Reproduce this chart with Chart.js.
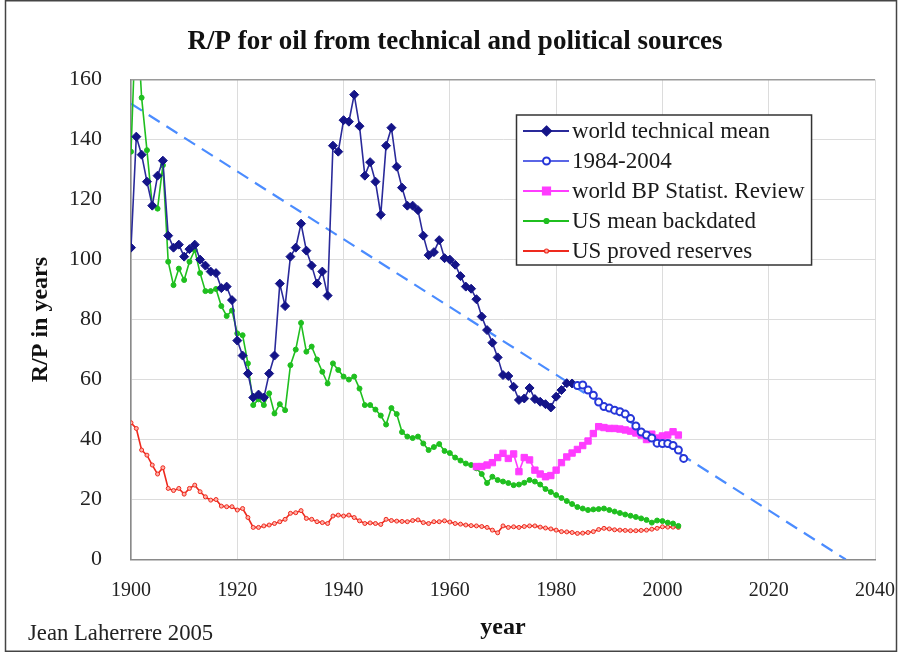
<!DOCTYPE html>
<html><head><meta charset="utf-8">
<script src="https://cdn.jsdelivr.net/npm/chart.js@4.4.1/dist/chart.umd.min.js"></script>
<style>html,body{margin:0;padding:0;background:#fff;}canvas{display:block;}</style>
</head><body>
<canvas id="c" width="900" height="657"></canvas>
<script>
// ---- data ----
const TITLE = 'R/P for oil from technical and political sources';
const X_TITLE = 'year';
const Y_TITLE = 'R/P in years';
const NOTE = 'Jean Laherrere 2005';
const X_MIN = 1900, X_MAX = 2040, X_STEP = 20;
const Y_MIN = 0, Y_MAX = 160, Y_STEP = 20;

const WTM_START = 1900; // world technical mean, yearly 1900-1983
const WTM_VALUES = [104,141,135,126,118,128,133,108,104,105,
  101,103.5,105,100,98,96,95.5,90.5,91,86.5,
  73,68,62,54,55,54,62,68,92,84.5,
  101,104,112,103,98,92,96,88,138,136,
  146.5,146,155,144.5,128,132.5,126,115,138,144,
  131,124,118,118,116.5,108,101.5,102.5,106.5,100.5,
  100,98.3,94.5,91,90.3,86.8,81,76.5,72.3,67.4,
  61.5,61.2,57.6,53.2,53.7,57.2,53.5,52.6,51.8,50.7,
  54.3,56.5,58.8,58.7];

const RECENT_START = 1984; // 1984-2004
const RECENT_VALUES = [58,58.2,56.5,54.8,52.5,51,50.5,49.8,49.3,48.5,
  47,44.5,42.5,41.5,40.5,38.8,38.7,38.7,38,36.5,33.7];

const BP_START = 1965; // world BP Statist. Review
const BP_VALUES = [31,31,31.5,32.3,34,35.4,33.7,35.2,29.3,34,
  33.2,29.8,28.5,27.6,28,29.8,32.3,34.2,35.5,36.7,
  38,39.5,42,44.3,44,43.7,43.7,43.5,43.2,42.8,
  42.2,41.5,40,41.8,40.5,41.2,41.5,42.6,41.5];

const USMEAN_START = 1900; // US mean backdated
const USMEAN_VALUES = [136,185,154,136.5,118,117,131.5,99.3,91.5,97,
  93.2,99.3,103.2,95.5,89.5,89.5,90.2,84.5,81.2,83,
  75.4,74.8,65.4,51.5,53.4,51.5,55.4,48.7,51.8,49.8,
  64.8,70,78.9,69.3,71,66.7,62.6,58.7,65.4,63.2,
  61,60,61,57,51.5,51.5,50,48,45,50.5,
  48.5,42.5,41,40.5,41,38.7,36.5,37.5,38.5,36.2,
  35.5,34,33,32,31.5,30.4,28.5,25.5,27.6,26.5,
  26,25.5,24.8,25,25.6,26.5,26,25,23.5,22.5,
  21.5,20.5,19.5,18.5,17.5,17,16.5,16.7,16.8,17,
  16.5,16,15.5,15,14.6,14.2,13.7,13.2,12.3,13,
  12.8,12.3,12,11.2];

const USPROVED_START = 1900; // US proved reserves
const USPROVED_VALUES = [45.6,43.7,36.5,34.8,31.5,28.5,30.6,23.7,23,23.7,
  21.8,23.7,24.8,22.6,20.9,19.8,20,17.8,17.6,17.6,
  16.5,17,14,10.7,10.7,11.2,11.5,12,12.6,13.4,
  15.4,15.6,16.3,13.7,13.4,12.6,12.3,12,14.5,14.8,
  14.5,14.8,14,12.9,12,12.2,12,11.7,13.4,13,
  12.8,12.7,12.6,13,13.2,12.3,12,12.6,12.6,12.9,
  12.5,12,11.8,11.5,11.3,11.2,11,10.7,9.8,8.9,
  11.2,10.7,10.9,10.7,11,11.2,11.2,10.8,10.5,10.2,
  9.8,9.3,9.2,9,8.7,8.8,9,9.3,10,10.4,
  10.2,9.9,9.8,9.7,9.6,9.6,9.7,9.8,10.1,10.4,
  10.9,10.8,10.8,10.7];

const TREND_YEARS = [1900, 2034.5];
const TREND_VALUES = [152, 0];

const LABELS = ['world technical mean','1984-2004','world BP Statist. Review','US mean backdated','US proved reserves'];

// ---- build points ----
const pts = (start, vals) => vals.map((v, i) => ({x: start + i, y: v}));
const trendPts = TREND_YEARS.map((x, i) => ({x, y: TREND_VALUES[i]}));

const SERIF = "'Liberation Serif', 'DejaVu Serif', serif";
const C_NAVY = '#141488', C_BLUE = '#2636d8', C_MAG = '#ff3cff', C_GREEN = '#1fbf1f', C_RED = '#ee2a1e', C_TREND = '#4b8cff';

const STYLE = [
  {color: C_NAVY, line: '#2a2a9a', shape: 'diamond', r: 4, fill: C_NAVY},
  {color: C_BLUE, line: '#5a66e6', shape: 'circle', r: 3.5, fill: '#ffffff'},
  {color: C_MAG, line: C_MAG, shape: 'square', r: 4, fill: C_MAG},
  {color: C_GREEN, line: C_GREEN, shape: 'circle', r: 2.5, fill: C_GREEN},
  {color: C_RED, line: C_RED, shape: 'circle', r: 2, fill: '#ffb0a8'}
];

function marker(ctx, s, x, y) {
  ctx.save();
  ctx.fillStyle = s.fill; ctx.strokeStyle = s.color; ctx.lineWidth = s.shape === 'circle' && s.fill === '#ffffff' ? 2 : 1.2;
  ctx.beginPath();
  if (s.shape === 'diamond') {
    ctx.moveTo(x, y - s.r - 1); ctx.lineTo(x + s.r + 1, y); ctx.lineTo(x, y + s.r + 1); ctx.lineTo(x - s.r - 1, y); ctx.closePath();
  } else if (s.shape === 'square') {
    ctx.rect(x - s.r, y - s.r, 2 * s.r, 2 * s.r);
  } else {
    ctx.arc(x, y, s.r, 0, Math.PI * 2);
  }
  ctx.fill(); ctx.stroke();
  ctx.restore();
}

const decor = {
  id: 'decor',
  afterDraw(chart) {
    const ctx = chart.ctx, a = chart.chartArea;
    ctx.save();
    // plot top border
    ctx.strokeStyle = '#9a9a9a'; ctx.lineWidth = 1.5;
    ctx.beginPath(); ctx.moveTo(a.left, a.top); ctx.lineTo(a.right, a.top); ctx.stroke();
    // outer frame
    ctx.strokeStyle = '#444'; ctx.lineWidth = 1.5;
    ctx.strokeRect(5.5, 0.75, 891, 650.5);
    // note
    ctx.fillStyle = '#222'; ctx.font = '22.7px ' + SERIF; ctx.textBaseline = 'middle'; ctx.textAlign = 'left';
    ctx.fillText(NOTE, 28, 634);
    // legend
    ctx.font = '23px ' + SERIF;
    const maxW = Math.max(...LABELS.map(l => ctx.measureText(l).width));
    const L = 516.5, T = 115, W = (572 - L) + maxW + 7, H = 150;
    ctx.fillStyle = '#fff'; ctx.fillRect(L, T, W, H);
    ctx.strokeStyle = '#333'; ctx.lineWidth = 1.5; ctx.strokeRect(L, T, W, H);
    LABELS.forEach((lab, i) => {
      const y = 131 + i * 30, s = STYLE[i];
      ctx.strokeStyle = s.line; ctx.lineWidth = 2;
      ctx.beginPath(); ctx.moveTo(523, y); ctx.lineTo(569, y); ctx.stroke();
      marker(ctx, s, 546.5, y);
      ctx.fillStyle = '#1a1a1a';
      ctx.fillText(lab, 572, y + 1);
    });
    ctx.restore();
  }
};

function ds(label, data, s, order) {
  return {
    label, data, order,
    borderColor: s.line, borderWidth: 1.6,
    pointStyle: s.shape === 'diamond' ? 'rectRot' : (s.shape === 'square' ? 'rect' : 'circle'),
    pointRadius: s.shape === 'diamond' ? 4.5 : (s.shape === 'square' ? 4.5 : s.r),
    pointBackgroundColor: s.fill, pointBorderColor: s.color,
    pointBorderWidth: s.fill === '#ffffff' ? 2 : 1,
    tension: 0, fill: false
  };
}

new Chart(document.getElementById('c'), {
  type: 'line',
  data: {
    datasets: [
      {label: 'trend', data: trendPts, borderColor: C_TREND, borderWidth: 2.2, borderDash: [13, 8], pointRadius: 0, order: 10, fill: false},
      ds(LABELS[4], pts(USPROVED_START, USPROVED_VALUES), STYLE[4], 5),
      ds(LABELS[3], pts(USMEAN_START, USMEAN_VALUES), STYLE[3], 4),
      ds(LABELS[2], pts(BP_START, BP_VALUES), STYLE[2], 3),
      ds(LABELS[1], pts(RECENT_START, RECENT_VALUES), STYLE[1], 1),
      ds(LABELS[0], pts(WTM_START, WTM_VALUES), STYLE[0], 2)
    ]
  },
  options: {
    responsive: false, animation: false, devicePixelRatio: 1,
    layout: {padding: {left: 35, right: 25, top: 0, bottom: 0}},
    plugins: {
      legend: {display: false}, tooltip: {enabled: false},
      title: {display: true, text: TITLE, color: '#111', font: {family: SERIF, size: 27, weight: 'bold', lineHeight: 1.2}, padding: {top: 26, bottom: 21.3}}
    },
    scales: {
      x: {
        type: 'linear', min: X_MIN, max: X_MAX,
        afterFit: s => { s.height = 97.5; s.paddingLeft = 0; s.paddingRight = 0; },
        ticks: {stepSize: X_STEP, padding: 19, color: '#222', font: {family: SERIF, size: 20}, callback: v => String(v), maxRotation: 0},
        grid: {color: '#dcdcdc', lineWidth: 1, drawTicks: false},
        border: {color: '#8a8a8a', width: 1.5},
        title: {display: true, text: X_TITLE, color: '#111', font: {family: SERIF, size: 24, weight: 'bold', lineHeight: 1.2}, padding: {top: 0, bottom: 15}}
      },
      y: {
        min: Y_MIN, max: Y_MAX,
        afterFit: s => { s.width = 96; s.paddingTop = 0; s.paddingBottom = 0; },
        ticks: {stepSize: Y_STEP, padding: 29, color: '#222', font: {family: SERIF, size: 22}, callback: v => String(v)},
        grid: {color: '#dcdcdc', lineWidth: 1, drawTicks: false},
        border: {color: '#8a8a8a', width: 1.5},
        title: {display: true, text: Y_TITLE, color: '#111', font: {family: SERIF, size: 24, weight: 'bold', lineHeight: 1}, padding: {top: -6, bottom: 0}}
      }
    }
  },
  plugins: [decor]
});
</script>
</body></html>
